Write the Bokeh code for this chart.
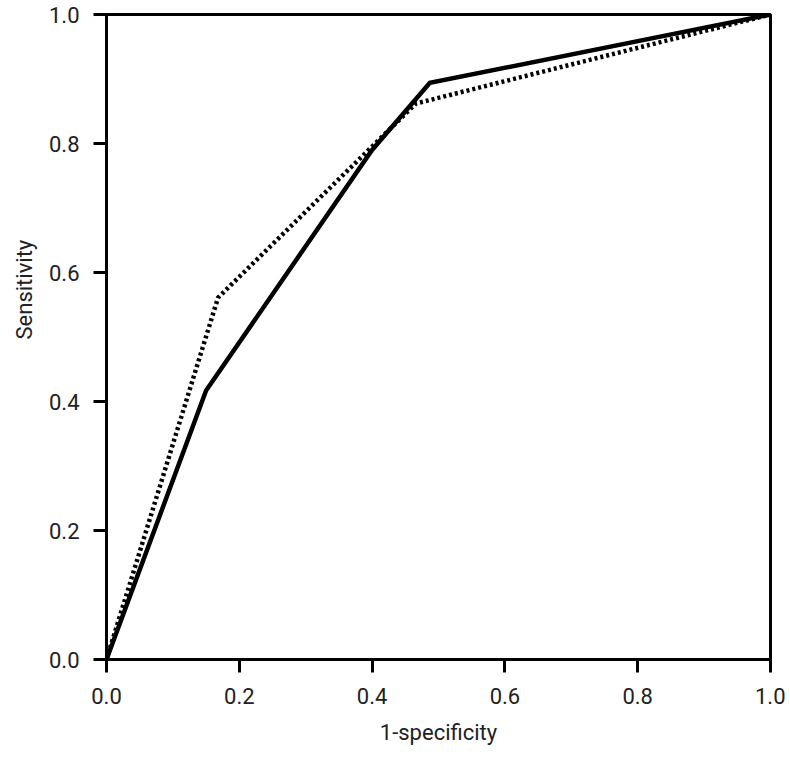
from bokeh.plotting import figure
from bokeh.models import Range1d, FixedTicker, Title
from bokeh.embed import file_html
from bokeh.resources import INLINE

# Data
solid_fpr = [0.0, 0.15, 0.40, 0.487, 1.0]
solid_tpr = [0.0, 0.417, 0.79, 0.894, 1.0]
dotted_fpr = [0.0, 0.168, 0.466, 1.0]
dotted_tpr = [0.0, 0.561, 0.862, 1.0]
ticks = [0.0, 0.2, 0.4, 0.6, 0.8, 1.0]
tick_labels = {0.0: "0.0", 0.2: "0.2", 0.4: "0.4", 0.6: "0.6", 0.8: "0.8", 1.0: "1.0"}

FONT = "Roboto"
FS = "22px"
TC = "#222222"

p = figure(width=785, height=752, output_backend="svg", toolbar_location=None,
           x_range=Range1d(0, 1), y_range=Range1d(0, 1),
           min_border_left=105, min_border_top=14, min_border_right=15, min_border_bottom=93)
p.grid.visible = False
p.background_fill_color = "white"
p.border_fill_color = "white"
p.outline_line_color = "black"
p.outline_line_width = 3

for ax in (p.xaxis[0], p.yaxis[0]):
    ax.ticker = FixedTicker(ticks=ticks)
    ax.major_label_overrides = tick_labels
    ax.axis_line_width = 3
    ax.axis_line_color = "black"
    ax.major_tick_line_width = 3
    ax.major_tick_line_color = "black"
    ax.major_tick_out = 13
    ax.major_tick_in = 0
    ax.minor_tick_line_color = None
    ax.major_label_text_font = FONT
    ax.major_label_text_font_size = FS
    ax.major_label_text_color = TC
    ax.axis_label_text_font = FONT
    ax.axis_label_text_font_size = FS
    ax.axis_label_text_font_style = "normal"
    ax.axis_label_text_color = TC

p.xaxis.axis_label = "1-specificity"
p.xaxis.major_label_standoff = 15
p.xaxis.axis_label_standoff = 13
p.yaxis.major_label_standoff = 14
p.yaxis.major_label_orientation = "horizontal"

ytitle = Title(text="Sensitivity", align="left", offset=320, standoff=18,
               text_font=FONT, text_font_size=FS, text_font_style="normal",
               text_color=TC)
p.add_layout(ytitle, "left")

p.line(solid_fpr, solid_tpr, line_color="black", line_width=4.5, line_join="miter")
p.line(dotted_fpr, dotted_tpr, line_color="black", line_width=4.5, line_dash="3 3")

open("out.html", "w").write(file_html(p, INLINE))
